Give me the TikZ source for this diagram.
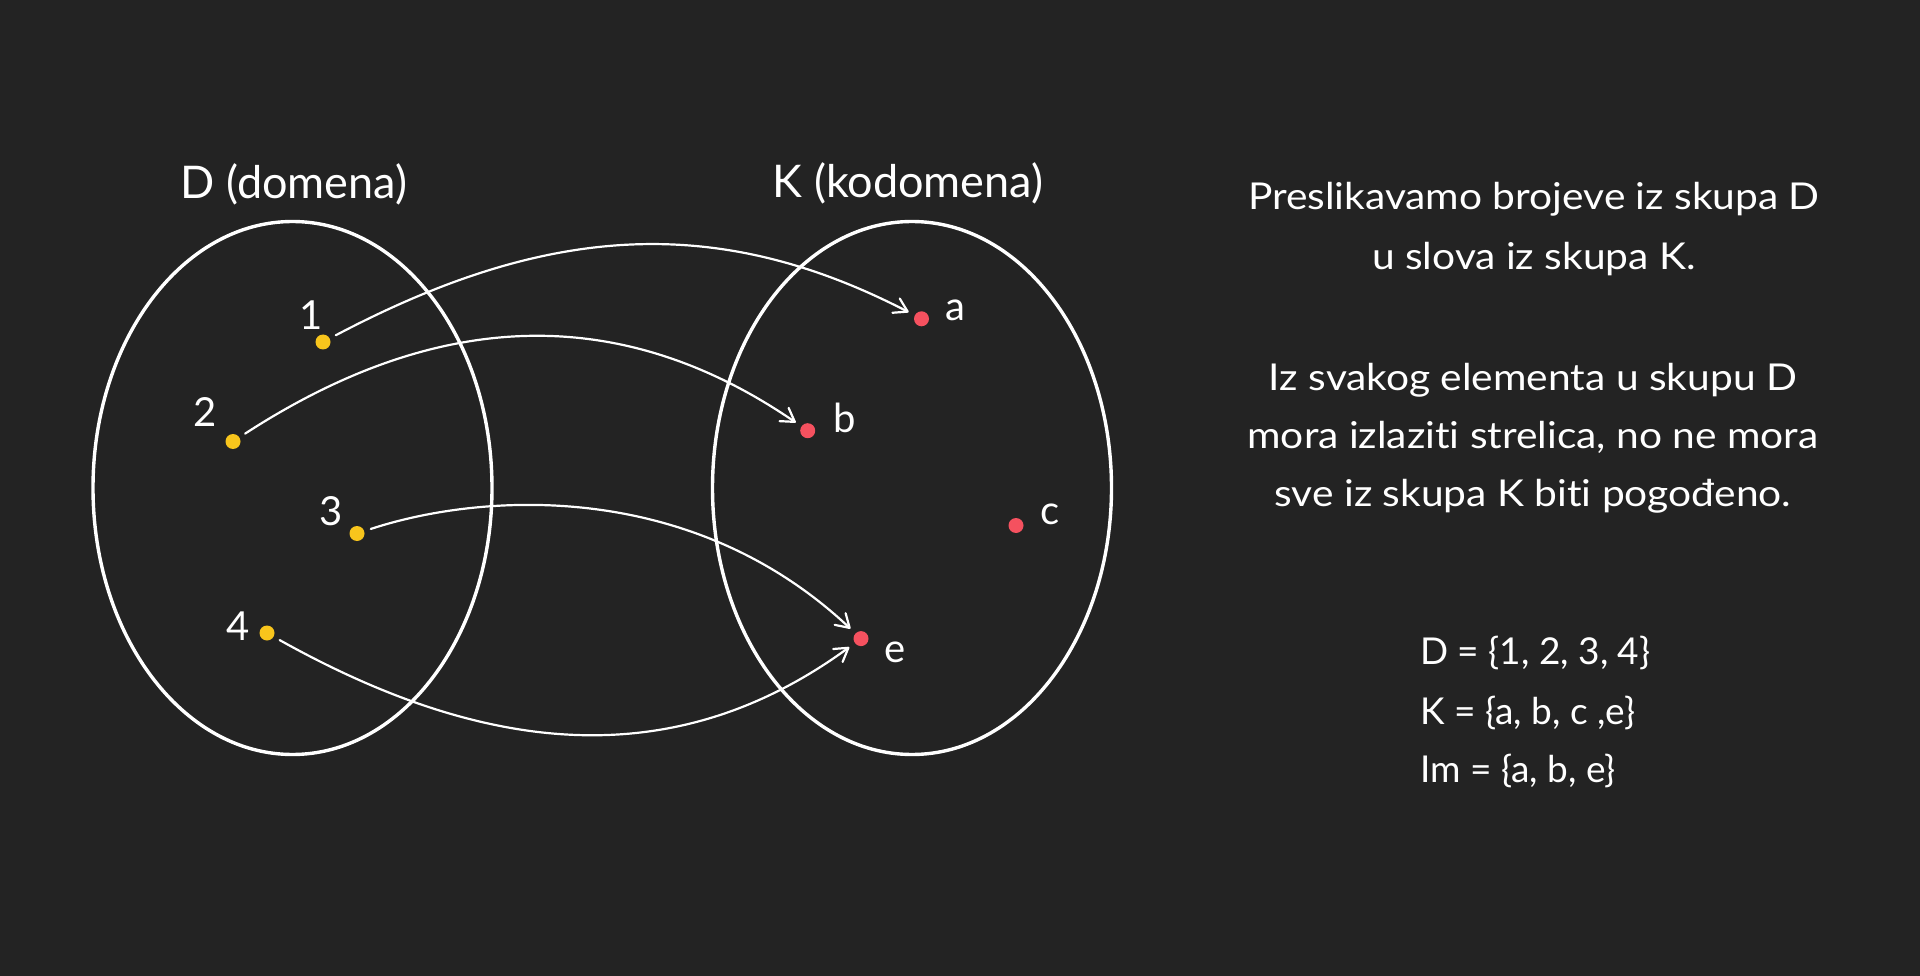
\documentclass[tikz,border=0pt]{standalone}
\usepackage{fontspec}
\setmainfont{Lato}[Ligatures=NoCommon]
\newfontfamily\rtfont{Lato}[FakeStretch=1.1, Ligatures=NoCommon]
\usetikzlibrary{arrows.meta,shapes.geometric}
\definecolor{bgc}{HTML}{232323}
\definecolor{dotY}{HTML}{F8C51C}
\definecolor{dotR}{HTML}{F5515F}
\tikzset{
  setshape/.style={draw=white, line width=3.4pt, ellipse, minimum width=399pt, minimum height=533pt, inner sep=0pt},
  ydot/.style={circle, fill=dotY, minimum size=15pt, inner sep=0pt, outer sep=7pt},
  rdot/.style={circle, fill=dotR, minimum size=15pt, inner sep=0pt, outer sep=7pt},
  lbl/.style={text=white, anchor=base, inner sep=0pt, font=\fontsize{40}{48}\selectfont},
  ttl/.style={text=white, anchor=base, inner sep=0pt, font=\fontsize{45}{52}\selectfont},
  txt/.style={text=white, anchor=base, inner sep=0pt, font=\rtfont\fontsize{37}{44}\selectfont},
  settxt/.style={text=white, anchor=base west, inner sep=0pt, font=\fontsize{37}{44}\selectfont},
  arr/.style={draw=white, line width=2.2pt, line cap=round, line join=round,
    -{Straight Barb[length=13pt,width=16pt,line cap=round,line join=round]}}
}
\begin{document}
\begin{tikzpicture}[x=1pt,y=-1pt]
\fill[bgc] (0,0) rectangle (1920,976);
\useasboundingbox (0,0) rectangle (1920,976);
% sets
\node[setshape] (D) at (292.5,488) {};
\node[setshape] (K) at (912,488) {};
\node[ttl] (tD) at (294,199) {D (domena)};
\node[ttl] (tK) at (908,198) {K (kodomena)};
% domain points
\node[ydot] (d1) at (323,342) {};
\node[ydot] (d2) at (233,441.5) {};
\node[ydot] (d3) at (357,533.5) {};
\node[ydot] (d4) at (267,633) {};
\node[lbl] (l1) at (311,330) {1};
\node[lbl] (l2) at (205,426.7) {2};
\node[lbl] (l3) at (330.6,525.5) {3};
\node[lbl] (l4) at (238,640) {4};
% codomain points
\node[rdot] (ka) at (921.5,318.8) {};
\node[rdot] (kb) at (807.7,430.7) {};
\node[rdot] (kc) at (1016,525.5) {};
\node[rdot] (ke) at (861,638.6) {};
\node[lbl] (la) at (955,320) {a};
\node[lbl] (lb) at (845,432.6) {b};
\node[lbl] (lc) at (1049.6,524.7) {c};
\node[lbl] (le) at (895,662) {e};
% mapping arrows
\draw[arr] (d1) .. controls (545,225) and (715,212) .. (ka);
\draw[arr] (d2) .. controls (434,311) and (617,300) .. (kb);
\draw[arr] (d3) .. controls (480,493) and (690,478) .. (ke);
\draw[arr] (d4) .. controls (480,752) and (670,778) .. (ke);
% explanation text
\node[txt] (p1) at (1534,210) {Preslikavamo brojeve iz skupa D};
\node[txt] (p2) at (1534,270) {u slova iz skupa K.};
\node[txt] (p3) at (1533,390.5) {Iz svakog elementa u skupu D};
\node[txt] (p4) at (1533,448.5) {mora izlaziti strelica, no ne mora};
\node[txt] (p5) at (1533,506.5) {sve iz skupa K biti pogođeno.};
\node[settxt] (s1) at (1420,664) {D = \{1, 2, 3, 4\}};
\node[settxt] (s2) at (1420,724) {K = \{a, b, c ,e\}};
\node[settxt] (s3) at (1420,782) {Im = \{a, b, e\}};
\end{tikzpicture}
\end{document}
